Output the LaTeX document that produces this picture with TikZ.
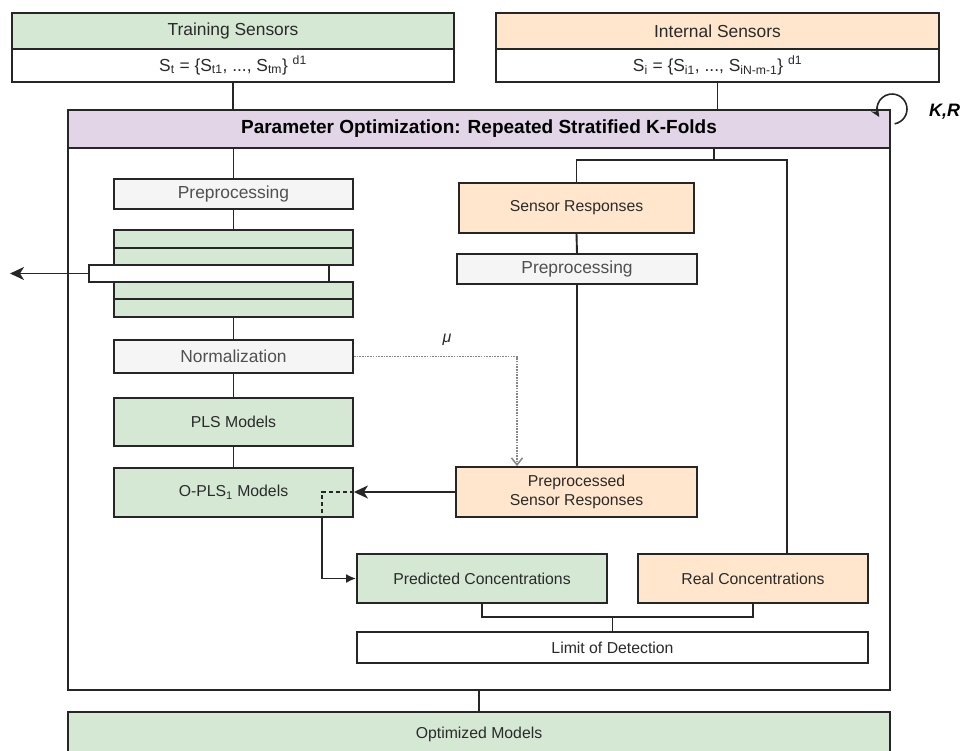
\documentclass[tikz,border=0pt]{standalone}
\usepackage{fontspec}
\setmainfont{Liberation Sans}
\usetikzlibrary{arrows.meta,calc}
\definecolor{gf}{HTML}{D5E8D4}
\definecolor{of}{HTML}{FFE6CC}
\definecolor{pf}{HTML}{E1D5E7}
\definecolor{gr}{HTML}{F5F5F5}
\definecolor{lc}{HTML}{262626}
\definecolor{tc}{HTML}{2A2A2A}
\definecolor{tg}{HTML}{505050}
\definecolor{dg}{HTML}{858585}
\begin{document}
\begin{tikzpicture}[x=1pt,y=-1pt,
  bx/.style={draw=lc, line width=1.8pt, inner sep=0pt, text=tc, align=center,
    font=\fontsize{15.8}{19}\selectfont},
  big/.style={font=\fontsize{17.4}{20}\selectfont},
  gbx/.style={bx, fill=gf},
  obx/.style={bx, fill=of},
  pbx/.style={bx, fill=gr, text=tg, big},
  wbx/.style={bx, fill=white},
  ln/.style={draw=lc, line width=1.9pt},
  tip/.style={-{Stealth[length=14pt,width=13pt,inset=4pt]}}
]
\useasboundingbox (0,0) rectangle (963,750);
% container
\node[wbx, minimum width=822, minimum height=580] (cont) at (479,400) {};
\node[bx, fill=pf, text=black, minimum width=822, minimum height=38,
  font=\bfseries\fontsize{19}{22}\selectfont] (title) at (479,129)
  {Parameter Optimization: Repeated Stratified K-Folds};
% top sensors
\node[gbx, big, minimum width=442, minimum height=36] (trH) at (233,31) {Training Sensors};
\node[wbx, big, minimum width=442, minimum height=33] (trS) at (233,65.5)
  {S\textsubscript{t} = \{S\textsubscript{t1}, ..., S\textsubscript{tm}\} \textsuperscript{d1}};
\node[obx, big, minimum width=443, minimum height=36] (inH) at (717.5,31) {Internal Sensors};
\node[wbx, big, minimum width=443, minimum height=33] (inS) at (717.5,65.5)
  {S\textsubscript{i} = \{S\textsubscript{i1}, ..., S\textsubscript{iN-m-1}\} \textsuperscript{d1}};
% left column
\node[pbx, minimum width=239, minimum height=30] (pre1) at (233.5,194) {Preprocessing};
\node[gbx, minimum width=239, minimum height=18] (g1) at (233.5,239) {};
\node[gbx, minimum width=239, minimum height=17] (g2) at (233.5,256.5) {};
\node[gbx, minimum width=239, minimum height=17] (g3) at (233.5,290.5) {};
\node[gbx, minimum width=239, minimum height=18] (g4) at (233.5,308) {};
\node[wbx, minimum width=240, minimum height=17] (wbar) at (209,273.5) {};
\node[pbx, minimum width=239, minimum height=33] (norm) at (233.5,356.5) {Normalization};
\node[gbx, minimum width=239, minimum height=48] (pls) at (233.5,422) {PLS Models};
\node[gbx, minimum width=239, minimum height=49] (opls) at (233.5,492.5) {O-PLS\textsubscript{1} Models};
% right column
\node[obx, minimum width=235, minimum height=50] (sr) at (576.5,208) {Sensor Responses};
\node[pbx, minimum width=240, minimum height=30] (pre2) at (577,269) {Preprocessing};
\node[obx, minimum width=241, minimum height=50] (psr) at (576.5,492) {Preprocessed\\Sensor Responses};
% bottom
\node[gbx, minimum width=250, minimum height=49] (pred) at (482,578.5) {Predicted Concentrations};
\node[obx, minimum width=230, minimum height=49] (real) at (753,578.5) {Real Concentrations};
\node[wbx, minimum width=511, minimum height=31] (lod) at (612.5,647.5) {Limit of Detection};
\node[gbx, minimum width=822, minimum height=44] (opt) at (479,734) {Optimized Models};
% labels
\node[font=\bfseries\itshape\fontsize{18}{20}\selectfont, anchor=west, inner sep=0] (kr) at (929,112) {K,R};
\node[font=\itshape\fontsize{16}{18}\selectfont, text=tc, inner sep=0] (mu) at (447,340) {μ};
% connectors top
\draw[ln] (trS.south) -- (trS.south |- title.north);
\draw[ln] (inS.south) -- (inS.south |- title.north);
\draw[ln] (pre1.north |- title.south) -- (pre1.north);
\draw[ln] (pre1.south) -- (g1.north);
\draw[ln] (g4.south) -- (norm.north);
\draw[ln] (norm.south) -- (pls.north);
\draw[ln] (pls.south) -- (opls.north);
\coordinate (la) at (10,273.5);
\draw[ln,tip] (wbar.west) -- (la);
% right branch
\coordinate (j) at (714,160);
\coordinate (jr) at (787,160);
\draw[ln] (title.south -| j) -- (j);
\draw[ln] (sr.north) -- (sr.north |- j) -- (jr) -- (jr |- real.north);
\draw[ln] (sr.south) -- (pre2.north);
\draw[ln] (pre2.south) -- (psr.north -| pre2.south);
\draw[ln,tip] (psr.west) -- (opls.east |- psr.west);
% mu dotted
\coordinate (mj) at (517,356.5);
\draw[draw=dg, line width=1.8pt, dash pattern=on 1.6pt off 1.1pt,
  -{Straight Barb[length=7pt,width=11pt,line width=1.5pt]}] (norm.east) -- (mj) -- (mj |- psr.north);
% opls output
\coordinate (dj) at (322,492);
\draw[ln, dash pattern=on 4pt off 3pt] (opls.east |- dj) -- (dj) -- (dj |- opls.south);
\draw[ln,-{Latex[length=10pt,width=9pt]}] (dj |- opls.south) |- (pred.west);
% bottom joins
\coordinate (pj) at (482,617);
\draw[ln] (pred.south) -- (pj) -| (real.south);
\draw[ln] (lod.north) -- (lod.north |- pj);
\draw[ln] (cont.south) -- (opt.north);
% K,R loop
\draw[ln, line width=1.6pt, -{Stealth[length=9pt,width=8pt]}] (894.6,123.8) arc[start angle=80,end angle=-212,radius=15];
\end{tikzpicture}
\end{document}
